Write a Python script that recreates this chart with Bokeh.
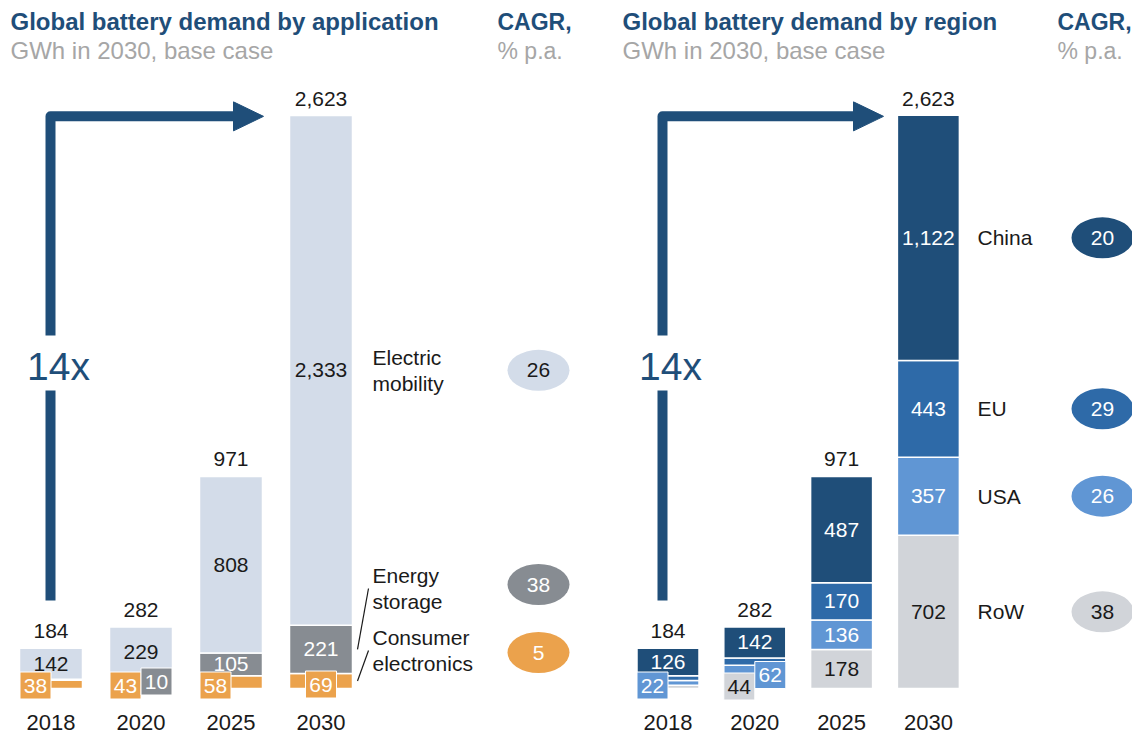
from bokeh.plotting import figure
from bokeh.layouts import row
from bokeh.models import Range1d
from bokeh.embed import file_html
from bokeh.resources import INLINE
from bokeh.core.properties import value

# ---------------- data ----------------
years = ["2018", "2020", "2025", "2030"]

app_consumer = [38, 43, 58, 69]
app_storage = [4, 10, 105, 221]
app_mobility = [142, 229, 808, 2333]
app_totals = [184, 282, 971, 2623]
app_cagr = [26, 38, 5]  # mobility, storage, consumer

reg_row = [15, 44, 178, 702]
reg_usa = [22, 62, 136, 357]
reg_eu = [21, 34, 170, 443]
reg_china = [126, 142, 487, 1122]
reg_totals = [184, 282, 971, 2623]
reg_names = ["China", "EU", "USA", "RoW"]
reg_cagr = [20, 29, 26, 38]

growth = "14x"

# ---------------- style ----------------
FONT = value("Liberation Sans")
NAVY = "#1f4e79"
EU_C = "#2e6aa8"
USA_C = "#6096d4"
ROW_C = "#d1d4d9"
MOB_C = "#d3dce9"
STO_C = "#878c92"
CON_C = "#eba24c"
DARK = "#1a1a1a"
SUB = "#a6a6a6"

TOP = 0
H = 734
SPLIT = 604
S = 573 / 2623          # px per GWh
BASE_PAGE_Y = 688        # page y of value 0


def vy(page_y):
    return (BASE_PAGE_Y - page_y) / S


def make_panel(left_page, width, bar0_page, step):
    p = figure(width=width, height=H, output_backend="svg", toolbar_location=None,
               x_range=Range1d((left_page - bar0_page) / step, (left_page + width - bar0_page) / step),
               y_range=Range1d(vy(TOP + H), vy(TOP)),
               x_axis_type=None, y_axis_type=None, min_border=0,
               min_border_left=0, min_border_right=0, min_border_top=0, min_border_bottom=0)
    p.grid.visible = False
    p.outline_line_color = None
    p.background_fill_color = "white"
    p.border_fill_color = "white"
    px = lambda page_x: (page_x - bar0_page) / step
    return p, px


def txt(p, x, y, t, color=DARK, size="21px", align="center", baseline="middle", style="normal", y_offset=0):
    p.text(x=[x], y=[y], text=[t], text_color=color, text_font=FONT, text_font_size=size,
           text_align=align, text_baseline=baseline, text_font_style=style, y_offset=y_offset)


def stacked(p, series, colors, width):
    bottoms = [0] * len(years)
    segs = []
    for vals, c in zip(series, colors):
        tops = [b + v for b, v in zip(bottoms, vals)]
        p.vbar(x=list(range(len(years))), bottom=bottoms, top=tops, width=width,
               fill_color=c, line_color="white", line_width=1.5)
        segs.append((bottoms, tops))
        bottoms = tops
    return segs


def box_label(p, x, y, t, fill, tcolor):
    p.rect(x=[x], y=[y], width=31, height=27, width_units="screen", height_units="screen",
           fill_color=fill, line_color="white", line_width=1)
    txt(p, x, y, t, color=tcolor)


def arrow(p, x0, xbase, xtip, label_x):
    ytop = app_totals[-1] - 4
    ybot = vy(600)
    gap_lo, gap_hi = vy(390), vy(335)
    p.line(x=[x0, x0], y=[ybot, gap_lo], line_width=10, line_color=NAVY, line_cap="butt")
    p.line(x=[x0, x0, xbase + 0.02], y=[gap_hi, ytop, ytop], line_width=10, line_color=NAVY,
           line_join="round", line_cap="butt")
    hh = 14.5 / S
    p.patch(x=[xbase, xtip, xbase], y=[ytop + hh, ytop, ytop - hh], fill_color=NAVY, line_color=NAVY)
    txt(p, label_x, vy(366), growth, color=NAVY, size="39px")


def fmt(v):
    return f"{v:,}"


# ================= left panel: by application =================
STEP_L = 90.0
pL, pxL = make_panel(0, SPLIT, 50.5, STEP_L)
BW_L = 63 / STEP_L
segL = stacked(pL, [app_consumer, app_storage, app_mobility], [CON_C, STO_C, MOB_C], BW_L)

for i in range(4):
    b, t = segL[2][0][i], segL[2][1][i]
    txt(pL, i, (b + t) / 2, fmt(app_mobility[i]), color=DARK)
    txt(pL, i, app_totals[i], fmt(app_totals[i]), y_offset=-17)
    txt(pL, i, vy(722), years[i], size="22px")
for i in (2, 3):
    b, t = segL[1][0][i], segL[1][1][i]
    txt(pL, i, (b + t) / 2, fmt(app_storage[i]), color="white")

offL = 15.5 / STEP_L
box_label(pL, 0 - offL, vy(685), fmt(app_consumer[0]), CON_C, "white")
box_label(pL, 1 - offL, vy(685), fmt(app_consumer[1]), CON_C, "white")
box_label(pL, 1 + offL, vy(681), fmt(app_storage[1]), STO_C, "white")
box_label(pL, 2 - offL, vy(685), fmt(app_consumer[2]), CON_C, "white")
box_label(pL, 3, vy(684), fmt(app_consumer[3]), CON_C, "white")

arrow(pL, pxL(50), pxL(233), pxL(263), pxL(58))

# category labels
lab_x = pxL(372)
mob_mid = (segL[2][0][3] + segL[2][1][3]) / 2
txt(pL, lab_x, mob_mid + 13 / S, "Electric", align="left")
txt(pL, lab_x, mob_mid - 13 / S, "mobility", align="left")
sto_c, con_c = vy(588), vy(650)
txt(pL, lab_x, sto_c + 13 / S, "Energy", align="left")
txt(pL, lab_x, sto_c - 13 / S, "storage", align="left")
txt(pL, lab_x, con_c + 13 / S, "Consumer", align="left")
txt(pL, lab_x, con_c - 13 / S, "electronics", align="left")
sto_mid = (segL[1][0][3] + segL[1][1][3]) / 2
con_mid = (segL[0][0][3] + segL[0][1][3]) / 2
pL.line(x=[pxL(357), pxL(368)], y=[sto_mid, sto_c], line_color=DARK, line_width=1.2)
pL.line(x=[pxL(357), pxL(368)], y=[con_mid, con_c], line_color=DARK, line_width=1.2)

# CAGR bubbles
bx = pxL(538)
for yv, c, fc, tc in [(mob_mid, app_cagr[0], MOB_C, DARK), (vy(584), app_cagr[1], STO_C, "white"),
                      (vy(652), app_cagr[2], CON_C, "white")]:
    pL.ellipse(x=[bx], y=[yv], width=62, height=41, width_units="screen", height_units="screen",
               fill_color=fc, line_color=None)
    txt(pL, bx, yv, str(c), color=tc)

# titles
txt(pL, pxL(10), vy(21), "Global battery demand by application", color=NAVY, size="24px",
    align="left", style="bold")
txt(pL, pxL(10), vy(50), "GWh in 2030, base case", color=SUB, size="24px", align="left")
txt(pL, pxL(497), vy(21), "CAGR,", color=NAVY, size="23px", align="left", style="bold")
txt(pL, pxL(497), vy(50), "% p.a.", color=SUB, size="23px", align="left")

# ================= right panel: by region =================
STEP_R = 86.8
pR, pxR = make_panel(SPLIT, 1132 - SPLIT, 667.5, STEP_R)
BW_R = 62 / STEP_R
segR = stacked(pR, [reg_row, reg_usa, reg_eu, reg_china], [ROW_C, USA_C, EU_C, NAVY], BW_R)
reg_vals = [reg_row, reg_usa, reg_eu, reg_china]
reg_tcol = [DARK, "white", "white", "white"]

for i in range(4):
    b, t = segR[3][0][i], segR[3][1][i]
    txt(pR, i, (b + t) / 2, fmt(reg_china[i]), color="white")
    txt(pR, i, reg_totals[i], fmt(reg_totals[i]), y_offset=-17)
    txt(pR, i, vy(722), years[i], size="22px")
for i in (2, 3):
    for k in range(3):
        b, t = segR[k][0][i], segR[k][1][i]
        txt(pR, i, (b + t) / 2, fmt(reg_vals[k][i]), color=reg_tcol[k])

offR = 15.5 / STEP_R
box_label(pR, 0 - offR, vy(685), fmt(reg_usa[0]), USA_C, "white")
box_label(pR, 1 - offR, vy(686), fmt(reg_row[1]), ROW_C, DARK)
box_label(pR, 1 + offR, vy(674.5), fmt(reg_usa[1]), USA_C, "white")

arrow(pR, pxR(662), pxR(853), pxR(883), pxR(670))

# region labels and bubbles (ordered China, EU, USA, RoW -> stack index 3,2,1,0)
bubble_fill = [NAVY, EU_C, USA_C, ROW_C]
bubble_text = ["white", "white", "white", DARK]
for n, name in enumerate(reg_names):
    k = 3 - n
    mid = (segR[k][0][3] + segR[k][1][3]) / 2
    txt(pR, pxR(977), mid, name, align="left")
    pR.ellipse(x=[pxR(1102)], y=[mid], width=62, height=41, width_units="screen", height_units="screen",
               fill_color=bubble_fill[n], line_color=None)
    txt(pR, pxR(1102), mid, str(reg_cagr[n]), color=bubble_text[n])

txt(pR, pxR(622), vy(21), "Global battery demand by region", color=NAVY, size="24px",
    align="left", style="bold")
txt(pR, pxR(622), vy(50), "GWh in 2030, base case", color=SUB, size="24px", align="left")
txt(pR, pxR(1057), vy(21), "CAGR,", color=NAVY, size="23px", align="left", style="bold")
txt(pR, pxR(1057), vy(50), "% p.a.", color=SUB, size="23px", align="left")

layout = row(pL, pR, spacing=0)
open("out.html", "w").write(file_html(layout, INLINE))
